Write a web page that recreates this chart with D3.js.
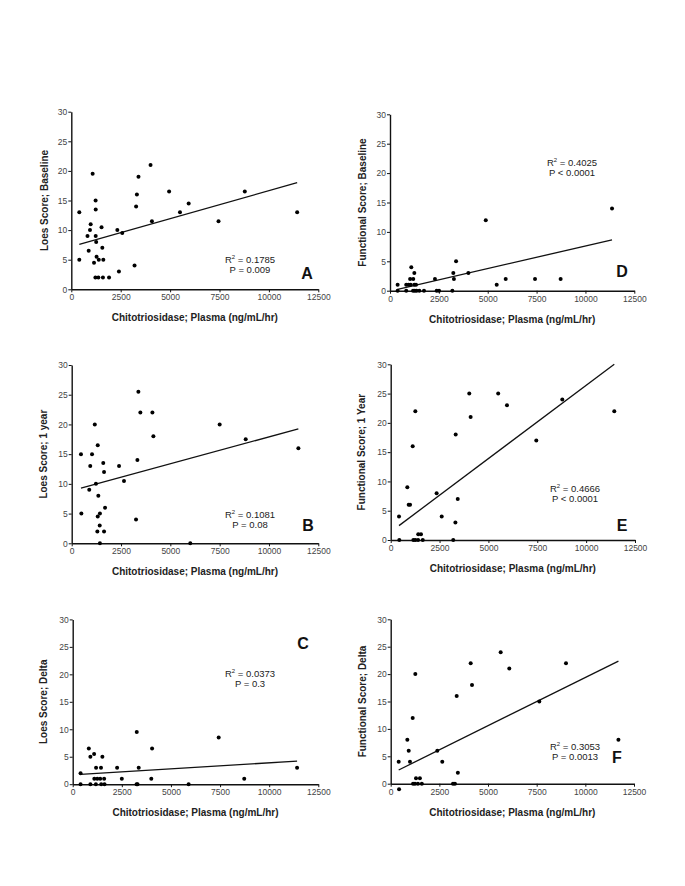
<!DOCTYPE html>
<html><head><meta charset="utf-8">
<script src="https://cdn.jsdelivr.net/npm/d3@7"></script>
<style>body{margin:0;background:#fff}svg{display:block}</style>
</head><body>
<script>
// ---- data ----
const xTicks = [0, 2500, 5000, 7500, 10000, 12500];
const yTicks = [0, 5, 10, 15, 20, 25, 30];
const xTitle = "Chitotriosidase; Plasma (ng/mL/hr)";

const loesBaseline = [[405,13],[405,5],[1080,19.5],[980,11],[945,10],[820,9],[880,6.5],[1230,15],[1235,13.5],[1235,9],[1260,8],[1280,5.5],[1150,4.5],[1390,5],[1220,2],[1370,2],[1600,2],[1910,2],[1530,10.5],[1570,7],[1620,5],[2330,10],[2580,9.5],[2410,3],[3280,14],[3320,16],[3400,19],[3200,4],[4010,21],[4080,11.5],[4950,16.5],[5500,13],[5940,14.5],[7450,11.5],[8780,16.5],[11430,13]];
const funcBaseline = [[390,1],[390,0],[830,1],[950,1],[1060,1],[830,0],[1030,2],[1090,4],[1190,2],[1245,3],[1245,1],[1330,1],[1180,0],[1270,0],[1360,0],[1500,0],[1740,0],[2300,2],[2390,0],[2510,0],[3190,0],[3240,3],[3270,2],[3380,5],[4010,3],[4900,12],[5460,1],[5920,2],[7420,2],[8730,2],[11360,14]];
const loes1Year = [[470,15],[490,5],[940,13],[1030,15],[890,9],[1170,20],[1230,10],[1320,16.5],[1350,8],[1600,13.5],[1640,12],[1430,5],[1320,4.5],[1690,6],[1420,3],[1300,2],[1640,2],[1430,0],[6010,0],[2400,13],[2650,10.5],[3260,4],[3330,14],[3380,25.5],[3480,22],[4090,22],[4140,18],[7500,20],[8820,17.5],[11490,16]];
const func1Year = [[425,4],[440,0],[850,9],[920,6],[990,6],[1125,16],[1260,22],[1410,1],[1550,1],[1160,0],[1260,0],[1400,0],[1640,0],[2350,8],[2610,4],[3200,0],[3310,3],[3325,18],[3430,7],[4020,25],[4090,21],[5500,25],[5950,23],[7450,17],[8780,24],[11440,22]];
const loesDelta = [[400,2],[400,0],[820,6.5],[900,5],[1090,5.5],[1510,5],[3260,9.5],[4040,6.5],[7430,8.5],[1190,3],[1440,3],[2260,3],[3360,3],[11420,3],[900,0],[1100,1],[1180,0],[1250,1],[1400,1],[1450,0],[1600,1],[1620,0],[2500,1],[3250,0],[3300,0],[4000,1],[5900,0],[8730,1]];
const funcDelta = [[855,8],[925,6],[1130,12],[1265,20],[2394,6],[3390,16],[4110,22],[4177,18],[5650,24],[6093,21],[7634,15],[9006,22],[11700,8],[410,4],[990,4],[2650,4],[430,-1],[1150,0],[1250,0],[1300,1],[1400,0],[1500,1],[1600,0],[3200,0],[3300,0],[3450,2]];

// regression lines: [slope, intercept]
const fitA = [0.000943, 7.22];
const fitD = [0.000766, -0.06];
const fitB = [0.000903, 8.87];
const fitE = [0.002503, 1.39];
const fitC = [0.000218, 1.71];
const fitF = [0.00176, 1.78];

const yTitles = ["Loes Score; Baseline","Functional Score; Baseline","Loes Score; 1 year","Functional Score; 1 Year","Loes Score; Delta","Functional Score; Delta"];
const letters = ["A","D","B","E","C","F"];
const statR2 = ["0.1785","0.4025","0.1081","0.4666","0.0373","0.3053"];
const statP = ["P = 0.009","P < 0.0001","P = 0.08","P < 0.0001","P = 0.3","P = 0.0013"];

// ---- layout ----
const W = 685, H = 886;
const boxes = [
  {l:71.3, r:318.3, t:111.7, b:289.3, ly:45,  sx:250, sy:263, lx:307, lyy:279},
  {l:390,  r:634.3, t:114.3, b:290.7, ly:363, sx:572, sy:166, lx:622, lyy:277},
  {l:71.7, r:318.3, t:365,   b:543.3, ly:44,  sx:250, sy:518, lx:308, lyy:531},
  {l:390.7,r:635,   t:364.3, b:540,   ly:362, sx:575, sy:492, lx:622, lyy:531},
  {l:72.7, r:318.3, t:619.4, b:784.2, ly:44,  sx:250, sy:677, lx:303, lyy:649},
  {l:390.7,r:634,   t:619.3, b:783.7, ly:363, sx:575, sy:750, lx:617, lyy:763}
];
const datasets = [loesBaseline, funcBaseline, loes1Year, func1Year, loesDelta, funcDelta];
const fits = [fitA, fitD, fitB, fitE, fitC, fitF];

const svg = d3.select("body").append("svg").attr("width", W).attr("height", H)
  .style("font-family", "Liberation Sans, Arial, sans-serif");

boxes.forEach((bx, i) => {
  const data = datasets[i];
  const x = d3.scaleLinear().domain([0, 12500]).range([bx.l, bx.r]);
  const y = d3.scaleLinear().domain([0, 30]).range([bx.b, bx.t]);
  const g = svg.append("g");

  const xa = g.append("g").attr("transform", `translate(0,${bx.b})`)
    .call(d3.axisBottom(x).tickValues(xTicks).tickSize(3).tickPadding(2).tickSizeOuter(0).tickFormat(d3.format("d")));
  const ya = g.append("g").attr("transform", `translate(${bx.l},0)`)
    .call(d3.axisLeft(y).tickValues(yTicks).tickSize(3).tickPadding(1).tickSizeOuter(0));
  [xa, ya].forEach(a => {
    a.select(".domain").attr("stroke", "#111").attr("stroke-width", 1.4);
    a.selectAll(".tick line").attr("stroke", "#111").attr("stroke-width", 1);
    a.selectAll(".tick text").attr("fill", "#444").style("font-size", "8.5px").style("font-family", "Liberation Sans, Arial, sans-serif");
  });

  // x title
  g.append("text").attr("x", (bx.l + bx.r) / 2).attr("y", bx.b + 32)
    .attr("text-anchor", "middle").attr("font-weight", "bold").attr("font-size", 10).attr("fill", "#222")
    .text(xTitle);
  // y title
  g.append("text").attr("transform", `translate(${bx.ly},${(bx.t + bx.b) / 2}) rotate(-90)`)
    .attr("text-anchor", "middle").attr("dominant-baseline", "middle")
    .attr("font-weight", "bold").attr("font-size", 10).attr("fill", "#222")
    .text(yTitles[i]);

  // regression line
  const xr = d3.extent(data, d => d[0]);
  const f = fits[i];
  g.append("line")
    .attr("x1", x(xr[0])).attr("y1", y(f[0] * xr[0] + f[1]))
    .attr("x2", x(xr[1])).attr("y2", y(f[0] * xr[1] + f[1]))
    .attr("stroke", "#111").attr("stroke-width", 1.3);

  // points
  g.selectAll("circle").data(data).join("circle")
    .attr("cx", d => x(d[0])).attr("cy", d => y(d[1])).attr("r", 2).attr("fill", "#000");

  // stats
  const st = g.append("text").attr("x", bx.sx).attr("y", bx.sy).attr("text-anchor", "middle")
    .attr("font-size", 9.5).attr("fill", "#222");
  st.append("tspan").text("R");
  st.append("tspan").attr("font-size", 6).attr("dy", -4).text("2");
  st.append("tspan").attr("dy", 4).text(" = " + statR2[i]);
  g.append("text").attr("x", bx.sx).attr("y", bx.sy + 10).attr("text-anchor", "middle")
    .attr("font-size", 9.5).attr("fill", "#222").text(statP[i]);

  // letter
  g.append("text").attr("x", bx.lx).attr("y", bx.lyy).attr("text-anchor", "middle")
    .attr("font-weight", "bold").attr("font-size", 16).attr("fill", "#111").text(letters[i]);
});
</script>
</body></html>
